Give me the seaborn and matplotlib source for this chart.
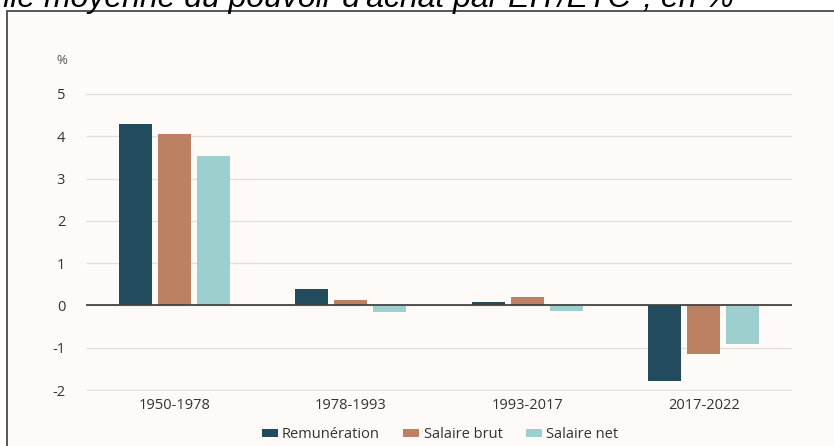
import pandas as pd
import matplotlib.pyplot as plt
import seaborn as sns
from matplotlib.patches import Rectangle
from matplotlib.transforms import blended_transform_factory

# Données (évolution annuelle moyenne, en %)
periodes = ["1950-1978", "1978-1993", "1993-2017", "2017-2022"]
series = ["Remunération", "Salaire brut", "Salaire net"]
remuneration = [4.3, 0.38, 0.07, -1.78]
salaire_brut = [4.05, 0.12, 0.2, -1.15]
salaire_net = [3.53, -0.15, -0.13, -0.92]
yticks = [-2, -1, 0, 1, 2, 3, 4, 5]
couleurs = ["#234b5e", "#bc8162", "#9dcfcf"]

df = pd.DataFrame({
    "periode": periodes,
    series[0]: remuneration,
    series[1]: salaire_brut,
    series[2]: salaire_net,
}).melt(id_vars="periode", var_name="serie", value_name="valeur")

sns.set_theme(style="white")
plt.rcParams['font.family'] = ['Open Sans', 'DejaVu Sans']
plt.rcParams['axes.unicode_minus'] = False

fig = plt.figure(figsize=(8.34, 4.46), dpi=100)
fig.patch.set_facecolor("white")

# cadre de fond
fig.add_artist(Rectangle((7 / 834, -0.1), 1.0, 1 - 11 / 446 + 0.1,
                         transform=fig.transFigure, facecolor="#fdfaf8",
                         edgecolor="#3a3a3a", lw=1.2, zorder=0))

# titre (coupé en haut de l'image, comme sur l'original)
fig.text(734 / 834, 1 - 7 / 446,
         "Évolution annuelle moyenne du pouvoir d'achat par EIT/ETC*, en %",
         ha="right", va="baseline", fontsize=23, style="italic",
         family=["Liberation Sans", "DejaVu Sans"], color="black")

ax = fig.add_axes([86 / 834, 1 - 391.3 / 446, 706 / 834, 298.6 / 446])
ax.set_facecolor("none")

sns.barplot(data=df, x="periode", y="valeur", hue="serie", palette=couleurs,
            width=0.663, gap=0.154, saturation=1, linewidth=0, ax=ax)

ax.set_xlim(-0.5, 3.5)
ax.set_ylim(-2.03, 5.03)
ax.set_yticks(yticks)
ax.yaxis.grid(True, color="#e3e0dd", lw=1)
ax.set_axisbelow(True)
ax.axhline(0, color="#444444", lw=1.3, zorder=3)
for s in ax.spines.values():
    s.set_visible(False)
ax.set_xlabel("")
ax.set_ylabel("")
ax.tick_params(axis="y", length=0, pad=15, labelsize=10.5, labelcolor="#333333")
ax.tick_params(axis="x", length=0, pad=5, labelsize=10.5, labelcolor="#333333")

# unité
tr = blended_transform_factory(ax.transAxes, ax.transData)
ax.text(-0.034, 5.8, "%", transform=tr, ha="center", va="center",
        fontsize=9.5, color="#555555")

ax.legend(loc="center", bbox_to_anchor=(440 / 834, 1 - 435 / 446),
          bbox_transform=fig.transFigure, ncol=3, frameon=False,
          handlelength=1.1, handleheight=0.45, handletextpad=0.3,
          columnspacing=1.6, fontsize=10.5, labelcolor="#333333")

fig.savefig("out.png", dpi=100)
